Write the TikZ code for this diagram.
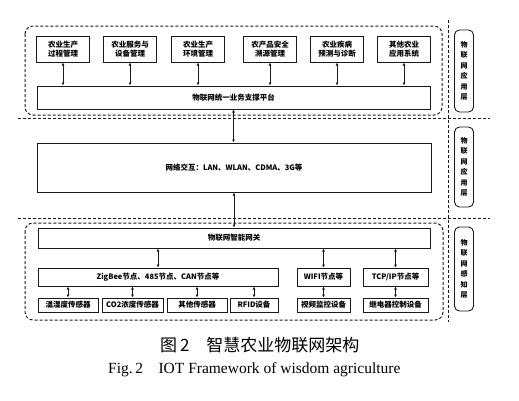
\documentclass[tikz,border=0pt]{standalone}
\usepackage{fontspec}
\usetikzlibrary{arrows.meta,positioning}
\newfontfamily\cjk{Noto Sans CJK SC}
\newfontfamily\capfont{Liberation Serif}
\definecolor{ink}{HTML}{1A1A1A}

\begin{document}
\begin{tikzpicture}[x=1pt,y=-1pt,
  box/.style={draw=ink,line width=1pt,inner sep=0.5pt,align=center,
    font=\cjk\bfseries\fontsize{7.5}{9.5}\selectfont},
  layer/.style={draw=ink,line width=0.9pt,rounded corners=5pt,inner sep=1pt,
    align=center,minimum width=19pt,font=\cjk\bfseries\fontsize{7}{10.5}\selectfont},
  frame/.style={draw=ink,line width=1pt,densely dashed,rounded corners=8pt},
  sep/.style={draw=ink,line width=0.9pt,densely dashed},
  link/.style={draw=ink,line width=1pt,{Latex[length=3pt,width=3pt]}-{Latex[length=3pt,width=3pt]}}]
  \useasboundingbox (0,0) rectangle (519,400);
  % layer frames and separators
  \draw[frame] (25,26) rectangle (442,115);
  \draw[frame] (25,223) rectangle (443,320);
  \draw[sep] (18,118) -- (490,118);
  \draw[sep] (18,218) -- (490,218);
  \draw[sep] (448,20) -- (448,322);
  % application layer
  \foreach \i/\x/\t in {1/63/{农业生产\\过程管理},2/130/{农业服务与\\设备管理},3/198/{农业生产\\环境管理},
      4/270/{农产品安全\\溯源管理},5/337/{农业疾病\\预测与诊断},6/404/{其他农业\\应用系统}} {
    \node[box,minimum width=53pt,minimum height=26pt] (app\i) at (\x,49) {\t};
  }
  \node[box,minimum width=393pt,minimum height=23pt] (plat) at (233.5,97.5) {物联网统一业务支撑平台};
  \foreach \i in {1,...,6} {
    \draw[link] (app\i.south) -- (app\i.south |- plat.north);
  }
  % network layer
  \node[box,minimum width=394pt,minimum height=49pt] (net) at (234,167.5) {网络交互：LAN、WLAN、CDMA、3G等};
  \draw[link] (plat.south) -- (plat.south |- net.north);
  % perception layer
  \node[box,minimum width=392pt,minimum height=20pt] (gate) at (234,238) {物联网智能网关};
  \draw[link] (net.south) -- (net.south |- gate.north);
  \node[box,minimum width=240pt,minimum height=18pt] (zig) at (158,277) {ZigBee节点、485节点、CAN节点等};
  \node[box,minimum width=53pt,minimum height=18pt] (wifi) at (323.5,277) {WIFI节点等};
  \node[box,minimum width=65pt,minimum height=18pt] (tcp) at (395.5,277) {TCP/IP节点等};
  \foreach \n in {zig,wifi,tcp} {
    \draw[link] (\n.north) -- (\n.north |- gate.south);
  }
  \foreach \i/\x/\w/\t in {1/68/60/温湿度传感器,2/132.5/61/CO2浓度传感器,3/197/60/其他传感器,
      4/254/48/RFID设备} {
    \node[box,minimum width=\w pt,minimum height=14pt] (sen\i) at (\x,305) {\t};
    \draw[link] (sen\i.north) -- (sen\i.north |- zig.south);
  }
  \node[box,minimum width=53pt,minimum height=14pt] (cam) at (323.5,305) {视频监控设备};
  \node[box,minimum width=65pt,minimum height=14pt] (relay) at (395.5,305) {继电器控制设备};
  \draw[link] (wifi) -- (cam);
  \draw[link] (tcp) -- (relay);
  % layer labels
  \node[layer,minimum height=82pt] (lapp) at (464,71) {物\\联\\网\\应\\用\\层};
  \node[layer,minimum height=80pt] (lnet) at (464,167) {物\\联\\网\\应\\用\\层};
  \node[layer,minimum height=84pt] (lsen) at (464,269) {物\\联\\网\\感\\知\\层};
  % caption
  \node[anchor=west,inner sep=0pt,font=\cjk\fontsize{17}{20}\selectfont] (capcn) at (160,345) {图\,2\quad 智慧农业物联网架构};
  \node[anchor=west,inner sep=0pt,font=\capfont\fontsize{15.5}{18}\selectfont] (capen) at (108,370) {Fig.\,2\quad IOT Framework of wisdom agriculture};
\end{tikzpicture}
\end{document}
